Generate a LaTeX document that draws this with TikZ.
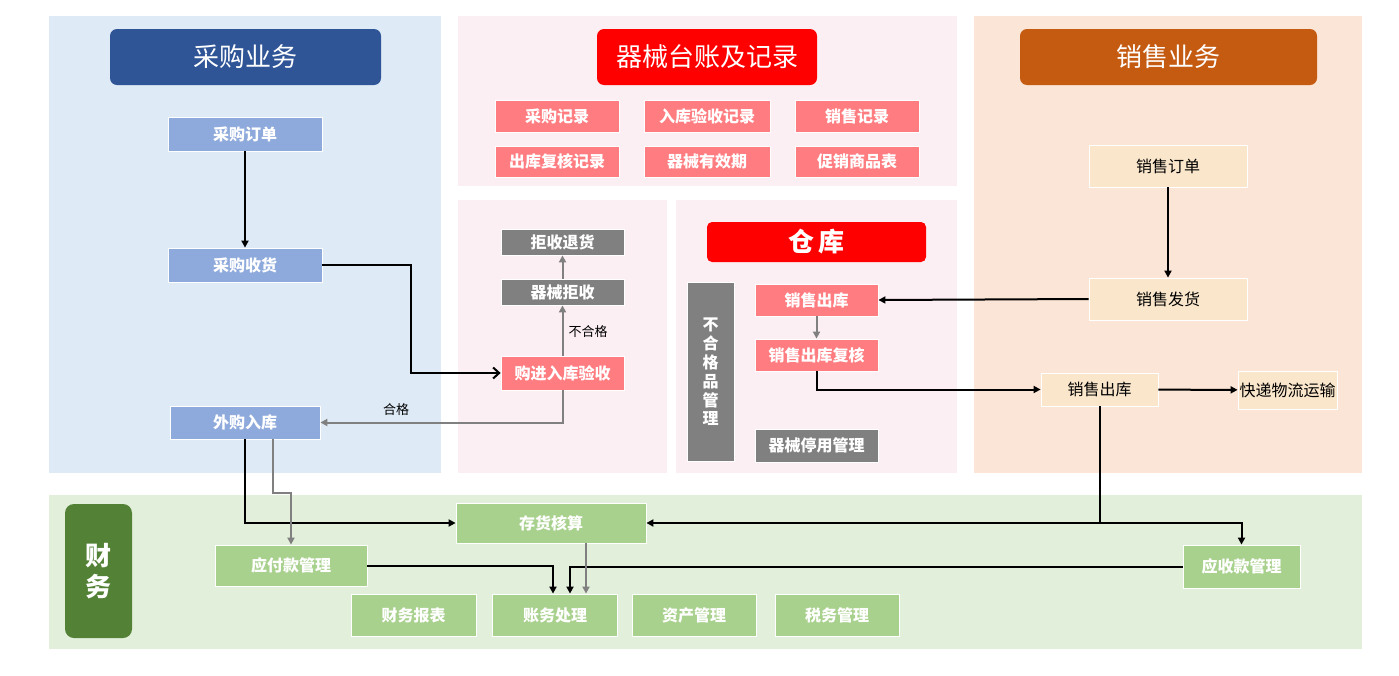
\documentclass[tikz,border=0pt]{standalone}
\usepackage{fontspec}
\setmainfont{Noto Sans CJK SC}
\usetikzlibrary{arrows.meta}

\definecolor{panelblue}{HTML}{DEEAF6}
\definecolor{panelpink}{HTML}{FCEFF3}
\definecolor{panelorange}{HTML}{FBE5D6}
\definecolor{panelgreen}{HTML}{E2EFDA}
\definecolor{headblue}{HTML}{2F5597}
\definecolor{headorange}{HTML}{C55A11}
\definecolor{headgreen}{HTML}{538135}
\definecolor{boxblue}{HTML}{8EA9DB}
\definecolor{boxpink}{HTML}{FF7C80}
\definecolor{boxgray}{HTML}{808080}
\definecolor{boxbeige}{HTML}{FAE6CB}
\definecolor{boxgreen}{HTML}{A9D18E}

\tikzset{
  box/.style={draw=white, line width=0.8, inner sep=0, text=white,
    font=\bfseries\fontsize{16}{18}\selectfont},
  bluebox/.style={box, fill=boxblue},
  pinkbox/.style={box, fill=boxpink},
  graybox/.style={box, fill=boxgray},
  greenbox/.style={box, fill=boxgreen},
  beigebox/.style={box, fill=boxbeige, text=black, font=\fontsize{16}{18}\selectfont},
  head/.style={rounded corners=7, inner sep=0, text=white,
    font=\fontsize{26}{30}\selectfont},
  blk/.style={line width=2, black},
  gry/.style={line width=2, boxgray},
  tip/.style={-{Triangle[length=7,width=7]}},
  lbl/.style={font=\fontsize{13}{15}\selectfont, text=black},
}

\begin{document}
\begin{tikzpicture}[x=1pt, y=-1pt]
    \useasboundingbox (0, 0) rectangle (1399, 675);
    % panels
    \fill[panelblue] (49, 16) rectangle (441, 473);
    \fill[panelpink] (458, 16) rectangle (957, 186);
    \fill[panelpink] (458, 200) rectangle (667, 473);
    \fill[panelpink] (676, 200) rectangle (957, 473);
    \fill[panelorange] (974, 16) rectangle (1362, 473);
    \fill[panelgreen] (49, 495) rectangle (1362, 649);
    % headings
    \node[head, fill=headblue, minimum width=271, minimum height=56] (buyhead) at (245.5, 57) {采购业务};
    \node[head, fill=red, minimum width=220, minimum height=56] (rechead) at (707, 57) {器械台账及记录};
    \node[head, fill=headorange, minimum width=297, minimum height=56] (salehead) at (1168.5, 57) {销售业务};
    \node[head, fill=red, minimum width=219, minimum height=40, rounded corners=5,
      font=\bfseries\fontsize{26}{30}\selectfont] (whhead) at (816.5, 242) {仓\,库};
    \node[head, fill=headgreen, minimum width=67, minimum height=134, rounded corners=9, align=center,
      font=\bfseries\fontsize{26}{31}\selectfont] (finhead) at (98.5, 571) {财\\务};
    % purchase
    \node[bluebox, minimum width=154, minimum height=34] (order) at (245, 134) {采购订单};
    \node[bluebox, minimum width=154, minimum height=34] (receive) at (245, 265) {采购收货};
    \node[bluebox, minimum width=150, minimum height=33] (inbound) at (245, 422.5) {外购入库};
    % records
    \node[pinkbox, minimum width=124, minimum height=32] (rec1) at (557, 116) {采购记录};
    \node[pinkbox, minimum width=126, minimum height=32] (rec2) at (707, 116) {入库验收记录};
    \node[pinkbox, minimum width=124, minimum height=32] (rec3) at (857, 116) {销售记录};
    \node[pinkbox, minimum width=124, minimum height=31] (rec4) at (557, 161.5) {出库复核记录};
    \node[pinkbox, minimum width=126, minimum height=31] (rec5) at (707, 161.5) {器械有效期};
    \node[pinkbox, minimum width=124, minimum height=31] (rec6) at (857, 161.5) {促销商品表};
    % acceptance
    \node[graybox, minimum width=123, minimum height=26] (refund) at (562.5, 242) {拒收退货};
    \node[graybox, minimum width=123, minimum height=26] (reject) at (562.5, 292) {器械拒收};
    \node[pinkbox, minimum width=123, minimum height=34] (check) at (562.5, 373) {购进入库验收};
    % warehouse
    \node[graybox, minimum width=47, minimum height=179, align=center,
      font=\bfseries\fontsize{16}{18.8}\selectfont] (ng) at (710.5, 372) {不\\合\\格\\品\\管\\理};
    \node[pinkbox, minimum width=123, minimum height=32] (saleout) at (816.5, 300) {销售出库};
    \node[pinkbox, minimum width=123, minimum height=32] (review) at (816.5, 355) {销售出库复核};
    \node[graybox, minimum width=123, minimum height=33] (stop) at (816.5, 445.5) {器械停用管理};
    % sales
    \node[beigebox, minimum width=158, minimum height=42] (sorder) at (1168, 166) {销售订单};
    \node[beigebox, minimum width=158, minimum height=42] (ship) at (1168, 299) {销售发货};
    \node[beigebox, minimum width=117, minimum height=33] (out) at (1099.5, 389.5) {销售出库};
    \node[beigebox, minimum width=99, minimum height=38] (express) at (1287.5, 390) {快递物流运输};
    % finance
    \node[greenbox, minimum width=190, minimum height=40] (stock) at (551, 523) {存货核算};
    \node[greenbox, minimum width=152, minimum height=41] (payable) at (291, 565.5) {应付款管理};
    \node[greenbox, minimum width=125, minimum height=42] (report) at (413.5, 615) {财务报表};
    \node[greenbox, minimum width=125, minimum height=42] (ledger) at (555, 615) {账务处理};
    \node[greenbox, minimum width=124, minimum height=42] (asset) at (694, 615) {资产管理};
    \node[greenbox, minimum width=124, minimum height=42] (tax) at (837, 615) {税务管理};
    \node[greenbox, minimum width=117, minimum height=43] (receivable) at (1241.5, 566.5) {应收款管理};
    % purchase flow
    \draw[blk, tip] (order) -- (receive);
    \draw[blk, -{Straight Barb[length=6,width=11]}] (receive.east) -| (411, 330) |- (check.west);
    \draw[gry, tip] (check) -- (reject);
    \draw[gry, tip] (reject) -- (refund);
    \node[lbl] (nglbl) at (588, 332) {不合格};
    \draw[gry, tip] (check.south) |- (inbound.east);
    \node[lbl] (oklbl) at (396, 410) {合格};
    % warehouse flow
    \draw[gry, tip] (saleout) -- (review);
    \draw[blk, tip] (review.south) |- (out.west);
    \draw[blk, tip] (ship.west) -- (saleout.east);
    \draw[blk, tip] (sorder) -- (ship);
    \draw[blk, tip] (out) -- (express);
    % finance flow
    \coordinate (split) at (out.south |- stock.east);
    \draw[blk, tip] (out.south) -- (split) -- (stock.east);
    \draw[blk, tip] (split) -| (receivable.north);
    \draw[blk, tip] (inbound.south) |- (stock.west);
    \coordinate (bend) at (291, 493);
    \draw[gry, tip] ([xshift=28]inbound.south) |- (bend) -- (payable.north);
    \draw[blk, tip] (payable.east) -| ([xshift=-2]ledger.north);
    \draw[blk, tip] (receivable.west) -| ([xshift=15]ledger.north);
    \draw[gry, tip] ([xshift=35]stock.south) -- ([xshift=31]ledger.north);
\end{tikzpicture}
\end{document}
